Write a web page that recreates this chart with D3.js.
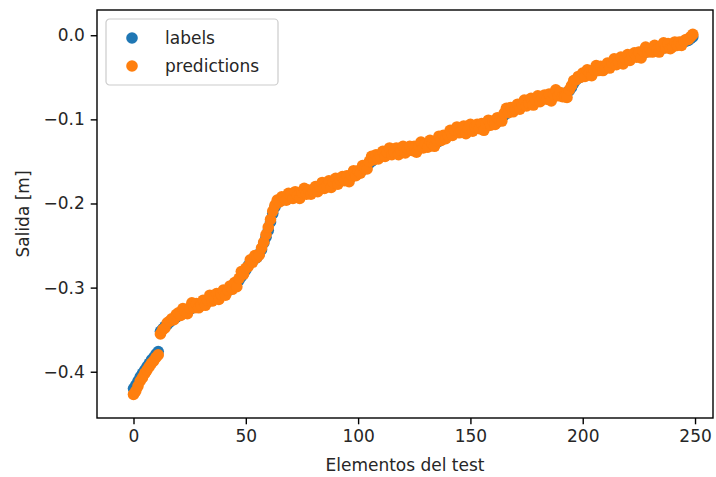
<!DOCTYPE html>
<html>
<head>
<meta charset="utf-8">
<script src="https://cdn.jsdelivr.net/npm/d3@7"></script>
<style>
  body { margin: 0; background: #fff; }
  text { font-family: "DejaVu Sans", sans-serif; fill: #262626; }
</style>
</head>
<body>
<svg id="canvas" width="716" height="477"></svg>
<script>
// values, index = element of the test set
const labels = [
  -0.420,-0.416,-0.411,-0.406,-0.402,-0.398,-0.394,-0.390,-0.386,-0.383,
  -0.379,-0.376,-0.352,-0.349,-0.346,-0.344,-0.341,-0.339,-0.337,-0.335,
  -0.333,-0.331,-0.330,-0.328,-0.327,-0.326,-0.324,-0.323,-0.322,-0.321,
  -0.320,-0.319,-0.318,-0.317,-0.315,-0.314,-0.313,-0.312,-0.310,-0.309,
  -0.308,-0.306,-0.304,-0.302,-0.300,-0.297,-0.294,-0.291,-0.287,-0.283,
  -0.279,-0.274,-0.270,-0.268,-0.266,-0.264,-0.260,-0.255,-0.247,-0.240,
  -0.232,-0.222,-0.212,-0.204,-0.199,-0.197,-0.196,-0.195,-0.194,-0.193,
  -0.193,-0.192,-0.191,-0.191,-0.190,-0.189,-0.188,-0.188,-0.187,-0.186,
  -0.185,-0.184,-0.183,-0.182,-0.181,-0.180,-0.179,-0.178,-0.177,-0.176,
  -0.175,-0.174,-0.173,-0.172,-0.171,-0.170,-0.169,-0.168,-0.167,-0.166,
  -0.164,-0.162,-0.160,-0.158,-0.155,-0.152,-0.150,-0.147,-0.145,-0.144,
  -0.143,-0.142,-0.141,-0.141,-0.140,-0.140,-0.139,-0.139,-0.138,-0.138,
  -0.137,-0.137,-0.136,-0.136,-0.135,-0.135,-0.134,-0.134,-0.133,-0.133,
  -0.132,-0.131,-0.130,-0.129,-0.128,-0.127,-0.126,-0.124,-0.122,-0.120,
  -0.118,-0.117,-0.116,-0.115,-0.115,-0.114,-0.114,-0.113,-0.113,-0.112,
  -0.111,-0.111,-0.110,-0.110,-0.109,-0.108,-0.108,-0.107,-0.107,-0.106,
  -0.105,-0.104,-0.103,-0.101,-0.098,-0.095,-0.093,-0.091,-0.089,-0.088,
  -0.087,-0.086,-0.085,-0.084,-0.083,-0.082,-0.081,-0.080,-0.079,-0.078,
  -0.077,-0.076,-0.075,-0.075,-0.074,-0.073,-0.073,-0.072,-0.071,-0.071,
  -0.070,-0.070,-0.069,-0.068,-0.066,-0.062,-0.057,-0.053,-0.051,-0.049,
  -0.048,-0.047,-0.046,-0.045,-0.044,-0.043,-0.042,-0.041,-0.040,-0.039,
  -0.038,-0.037,-0.036,-0.035,-0.034,-0.033,-0.032,-0.031,-0.030,-0.029,
  -0.028,-0.027,-0.026,-0.025,-0.024,-0.023,-0.022,-0.021,-0.020,-0.019,
  -0.019,-0.018,-0.017,-0.017,-0.016,-0.015,-0.015,-0.014,-0.013,-0.013,
  -0.012,-0.011,-0.011,-0.010,-0.009,-0.008,-0.007,-0.006,-0.004,-0.002
];

const predictions = [
  -0.427,-0.423,-0.417,-0.411,-0.407,-0.402,-0.398,-0.394,-0.390,-0.387,
  -0.383,-0.380,-0.355,-0.350,-0.348,-0.342,-0.340,-0.337,-0.338,-0.332,
  -0.330,-0.333,-0.325,-0.328,-0.331,-0.324,-0.318,-0.324,-0.319,-0.324,
  -0.321,-0.315,-0.321,-0.315,-0.309,-0.316,-0.313,-0.307,-0.314,-0.308,
  -0.303,-0.309,-0.303,-0.298,-0.302,-0.294,-0.299,-0.289,-0.281,-0.284,
  -0.277,-0.275,-0.267,-0.270,-0.262,-0.264,-0.261,-0.253,-0.246,-0.237,
  -0.228,-0.219,-0.209,-0.202,-0.196,-0.198,-0.192,-0.193,-0.196,-0.188,
  -0.190,-0.194,-0.186,-0.191,-0.194,-0.187,-0.182,-0.189,-0.184,-0.189,
  -0.186,-0.180,-0.186,-0.180,-0.175,-0.182,-0.179,-0.173,-0.181,-0.175,
  -0.170,-0.177,-0.172,-0.168,-0.173,-0.167,-0.174,-0.166,-0.161,-0.167,
  -0.161,-0.164,-0.155,-0.158,-0.159,-0.150,-0.144,-0.148,-0.142,-0.147,
  -0.144,-0.138,-0.144,-0.139,-0.134,-0.142,-0.139,-0.134,-0.142,-0.137,
  -0.132,-0.140,-0.135,-0.132,-0.137,-0.132,-0.139,-0.132,-0.127,-0.134,
  -0.129,-0.133,-0.125,-0.129,-0.132,-0.125,-0.120,-0.125,-0.119,-0.123,
  -0.119,-0.113,-0.119,-0.113,-0.109,-0.116,-0.114,-0.108,-0.117,-0.111,
  -0.106,-0.114,-0.109,-0.106,-0.111,-0.105,-0.113,-0.105,-0.101,-0.107,
  -0.102,-0.106,-0.098,-0.101,-0.102,-0.093,-0.087,-0.092,-0.086,-0.091,
  -0.088,-0.082,-0.088,-0.082,-0.077,-0.084,-0.081,-0.075,-0.083,-0.077,
  -0.072,-0.079,-0.074,-0.071,-0.076,-0.070,-0.078,-0.070,-0.065,-0.072,
  -0.068,-0.073,-0.073,-0.074,-0.065,-0.060,-0.054,-0.053,-0.049,-0.050,
  -0.045,-0.049,-0.041,-0.045,-0.048,-0.041,-0.036,-0.042,-0.037,-0.042,
  -0.039,-0.033,-0.039,-0.033,-0.028,-0.035,-0.032,-0.026,-0.034,-0.028,
  -0.023,-0.030,-0.025,-0.021,-0.026,-0.020,-0.027,-0.019,-0.014,-0.020,
  -0.016,-0.020,-0.012,-0.017,-0.020,-0.013,-0.009,-0.015,-0.010,-0.016,
  -0.014,-0.008,-0.012,-0.008,-0.012,-0.007,-0.005,-0.005,-0.002,0.001
];

const seriesNames = ["labels", "predictions"];
const seriesColors = ["#1f77b4", "#ff7f0e"];
const xTicks = [0, 50, 100, 150, 200, 250];
const yTicks = [0.0, -0.1, -0.2, -0.3, -0.4];

const svg = d3.select("#canvas");

// axes box
const boxLeft = 97, boxRight = 713, boxTop = 10, boxBottom = 418;
const r = 5.8;
const fontSize = "17px";

const x = d3.scaleLinear().domain([-16.25, 258]).range([boxLeft, boxRight]);
const y = d3.scaleLinear().domain([-0.455, 0.030]).range([boxBottom, boxTop]);

const fmt = d => d3.format(".1f")(d).replace("-", "\u2212");

const plot = svg.append("g");

// labels first, predictions drawn over them
[labels, predictions].forEach((vals, s) => {
    plot.selectAll(".dot-" + s)
        .data(vals)
        .enter()
        .append("circle")
        .attr("class", "dot-" + s)
        .attr("cx", (d, i) => x(i))
        .attr("cy", d => y(d))
        .attr("r", r)
        .attr("fill", seriesColors[s]);
});

// ticks
const xAxis = svg.append("g")
    .attr("transform", `translate(0,${boxBottom})`)
    .call(d3.axisBottom(x).tickValues(xTicks).tickSize(6.3).tickPadding(6).tickFormat(d3.format("d")));
const yAxis = svg.append("g")
    .attr("transform", `translate(${boxLeft},0)`)
    .call(d3.axisLeft(y).tickValues(yTicks).tickSize(6.3).tickPadding(6).tickFormat(fmt));

[xAxis, yAxis].forEach(a => {
    a.select(".domain").remove();
    a.selectAll(".tick line").attr("stroke", "#000").attr("stroke-width", 1.4);
    a.selectAll(".tick text")
        .attr("fill", "#262626")
        .style("font-family", "'DejaVu Sans', sans-serif")
        .style("font-size", fontSize);
});

// frame
svg.append("rect")
    .attr("x", boxLeft)
    .attr("y", boxTop)
    .attr("width", boxRight - boxLeft)
    .attr("height", boxBottom - boxTop)
    .attr("fill", "none")
    .attr("stroke", "#000")
    .attr("stroke-width", 1.4);

// axis titles
svg.append("text")
    .attr("x", (boxLeft + boxRight) / 2)
    .attr("y", 471)
    .attr("text-anchor", "middle")
    .style("font-size", fontSize)
    .text("Elementos del test");

svg.append("text")
    .attr("transform", `translate(29,${(boxTop + boxBottom) / 2}) rotate(-90)`)
    .attr("text-anchor", "middle")
    .style("font-size", fontSize)
    .text("Salida [m]");

// legend
const legend = svg.append("g").attr("transform", "translate(106,19)");
legend.append("rect")
    .attr("width", 172)
    .attr("height", 66)
    .attr("rx", 3.6)
    .attr("fill", "#fff")
    .attr("fill-opacity", 0.8)
    .attr("stroke", "#cccccc")
    .attr("stroke-width", 1.2);

seriesNames.forEach((name, i) => {
    const cy = 19 + i * 28;
    legend.append("circle")
        .attr("cx", 26)
        .attr("cy", cy)
        .attr("r", r)
        .attr("fill", seriesColors[i]);
    legend.append("text")
        .attr("x", 59)
        .attr("y", cy)
        .attr("dy", "0.35em")
        .style("font-size", fontSize)
        .text(name);
});
</script>
</body>
</html>
